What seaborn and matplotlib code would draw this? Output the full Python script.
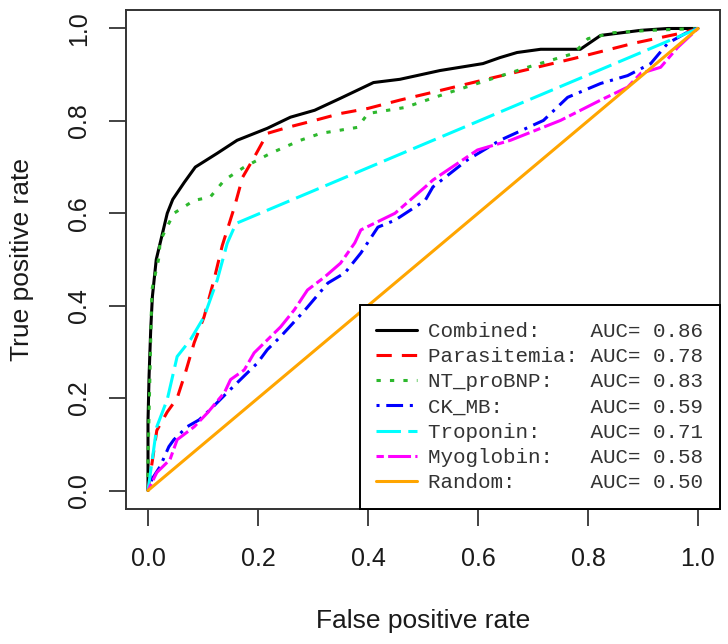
import matplotlib
matplotlib.use("Agg")
import matplotlib.pyplot as plt
import seaborn as sns
from matplotlib.font_manager import FontProperties

# -------------------------
# ROC curve points
# -------------------------
combined_fpr = [0, 0, 0.002, 0.005, 0.008, 0.015, 0.025, 0.035, 0.045, 0.066, 0.086, 0.126, 0.162,
                0.217, 0.259, 0.303, 0.35, 0.41, 0.458, 0.531, 0.609, 0.64, 0.671, 0.714, 0.786,
                0.823, 0.896, 0.945, 1]
combined_tpr = [0, 0.15, 0.25, 0.35, 0.42, 0.5, 0.55, 0.6, 0.63, 0.667, 0.70, 0.73, 0.758,
                0.784, 0.808, 0.823, 0.849, 0.883, 0.89, 0.909, 0.924, 0.937, 0.948, 0.955, 0.955,
                0.985, 0.996, 1.0, 1]

para_fpr = [0, 0.016, 0.035, 0.053, 0.068, 0.084, 0.102, 0.12, 0.135, 0.157, 0.172, 0.193, 0.217,
            0.254, 0.303, 0.35, 0.40, 0.458, 0.518, 0.622, 0.70, 0.774, 0.883, 0.974, 1]
para_tpr = [0, 0.13, 0.17, 0.20, 0.255, 0.32, 0.376, 0.456, 0.53, 0.613, 0.678, 0.721, 0.773,
            0.786, 0.801, 0.816, 0.827, 0.845, 0.862, 0.892, 0.914, 0.935, 0.968, 0.991, 1]

bnp_fpr = [0, 0, 0.007, 0.02, 0.022, 0.047, 0.084, 0.113, 0.139, 0.175, 0.223, 0.277, 0.314,
           0.381, 0.40, 0.467, 0.544, 0.617, 0.69, 0.774, 0.80, 0.847, 0.914, 1]
bnp_tpr = [0, 0.067, 0.434, 0.505, 0.54, 0.60, 0.628, 0.635, 0.672, 0.70, 0.73, 0.758, 0.773,
           0.786, 0.816, 0.829, 0.86, 0.888, 0.916, 0.946, 0.978, 0.991, 0.996, 1]

ckmb_fpr = [0, 0.007, 0.022, 0.038, 0.047, 0.071, 0.093, 0.113, 0.144, 0.168, 0.199, 0.217, 0.241,
            0.285, 0.327, 0.358, 0.387, 0.418, 0.449, 0.504, 0.518, 0.58, 0.64, 0.719, 0.763,
            0.823, 0.872, 0.914, 0.945, 0.987, 1]
ckmb_tpr = [0, 0.024, 0.052, 0.095, 0.11, 0.138, 0.153, 0.175, 0.212, 0.24, 0.276, 0.305, 0.333,
            0.39, 0.449, 0.471, 0.514, 0.57, 0.585, 0.628, 0.657, 0.715, 0.758, 0.801, 0.851,
            0.881, 0.898, 0.924, 0.968, 0.996, 1]

trop_fpr = [0, 0.016, 0.035, 0.053, 0.077, 0.102, 0.126, 0.144, 0.157, 0.162, 1]
trop_tpr = [0, 0.138, 0.197, 0.29, 0.326, 0.376, 0.456, 0.535, 0.57, 0.579, 1]

myo_fpr = [0, 0.016, 0.04, 0.053, 0.084, 0.108, 0.139, 0.15, 0.175, 0.193, 0.217, 0.241, 0.266,
           0.29, 0.321, 0.35, 0.376, 0.387, 0.449, 0.504, 0.518, 0.599, 0.659, 0.75, 0.823,
           0.872, 0.896, 0.932, 0.963, 1]
myo_tpr = [0, 0.039, 0.067, 0.11, 0.138, 0.168, 0.212, 0.24, 0.261, 0.298, 0.326, 0.354, 0.391,
           0.434, 0.462, 0.492, 0.536, 0.564, 0.60, 0.657, 0.672, 0.737, 0.758, 0.801, 0.845,
           0.873, 0.903, 0.916, 0.959, 1]

random_fpr = [0, 1]
random_tpr = [0, 1]

names = ["Combined:", "Parasitemia:", "NT_proBNP:", "CK_MB:", "Troponin:", "Myoglobin:", "Random:"]
aucs = [0.86, 0.78, 0.83, 0.59, 0.71, 0.58, 0.50]

curves = [(combined_fpr, combined_tpr), (para_fpr, para_tpr), (bnp_fpr, bnp_tpr),
          (ckmb_fpr, ckmb_tpr), (trop_fpr, trop_tpr), (myo_fpr, myo_tpr),
          (random_fpr, random_tpr)]
colors = ["black", "red", "#2db82d", "blue", "cyan", "magenta", "orange"]
# R-like lty: solid, dashed, dotted, dotdash, longdash, twodash, solid
styles = ["-", (0, (5, 3.3)), (0, (1.4, 3)), (0, (1, 2.2, 5.5, 2.2)), (0, (8, 2.4)),
          (0, (2.4, 1.4, 7.5, 1.4)), "-"]

sns.set_style("white")
plt.rcParams["font.family"] = ["Liberation Sans", "DejaVu Sans"]

fig = plt.figure(figsize=(7.28, 6.44), dpi=100)
ax = fig.add_axes([126 / 728, 1 - 509 / 644, (720 - 126) / 728, 499 / 644])

for (fx, ty), name, auc, c, ls in zip(curves, names, aucs, colors, styles):
    sns.lineplot(x=fx, y=ty, sort=False, estimator=None, color=c, linestyle=ls,
                 linewidth=2.2, label=f"{name:<13}AUC= {auc:.2f}", ax=ax)

ax.set_xlim(-0.04, 1.04)
ax.set_ylim(-0.04, 1.04)
ticks = [0.0, 0.2, 0.4, 0.6, 0.8, 1.0]
ax.set_xticks(ticks)
ax.set_yticks(ticks)
ax.set_xticklabels([f"{t:.1f}" for t in ticks])
ax.set_yticklabels([f"{t:.1f}" for t in ticks], rotation=90, va="center")
ax.tick_params(axis="both", direction="out", length=12, width=1.2, color="#222222",
               labelsize=18, labelcolor="#1a1a1a", bottom=True, left=True)
ax.tick_params(axis="x", pad=15.5)
ax.tick_params(axis="y", pad=13)
for s in ax.spines.values():
    s.set_color("#333333")
    s.set_linewidth(1.4)
ax.set_xlabel("False positive rate", fontsize=19, labelpad=27, color="#1a1a1a")
ax.set_ylabel("True positive rate", fontsize=19, labelpad=24, color="#1a1a1a")

leg = ax.legend(prop=FontProperties(family="Liberation Mono", size=15), loc="lower right",
                borderaxespad=0, fancybox=False, framealpha=1, edgecolor="black",
                handlelength=1.95, labelspacing=0.3, borderpad=0.8, handletextpad=0.55)
leg.get_frame().set_linewidth(1.4)
for t in leg.get_texts():
    t.set_color("#333333")

fig.savefig("out.png", dpi=100)
